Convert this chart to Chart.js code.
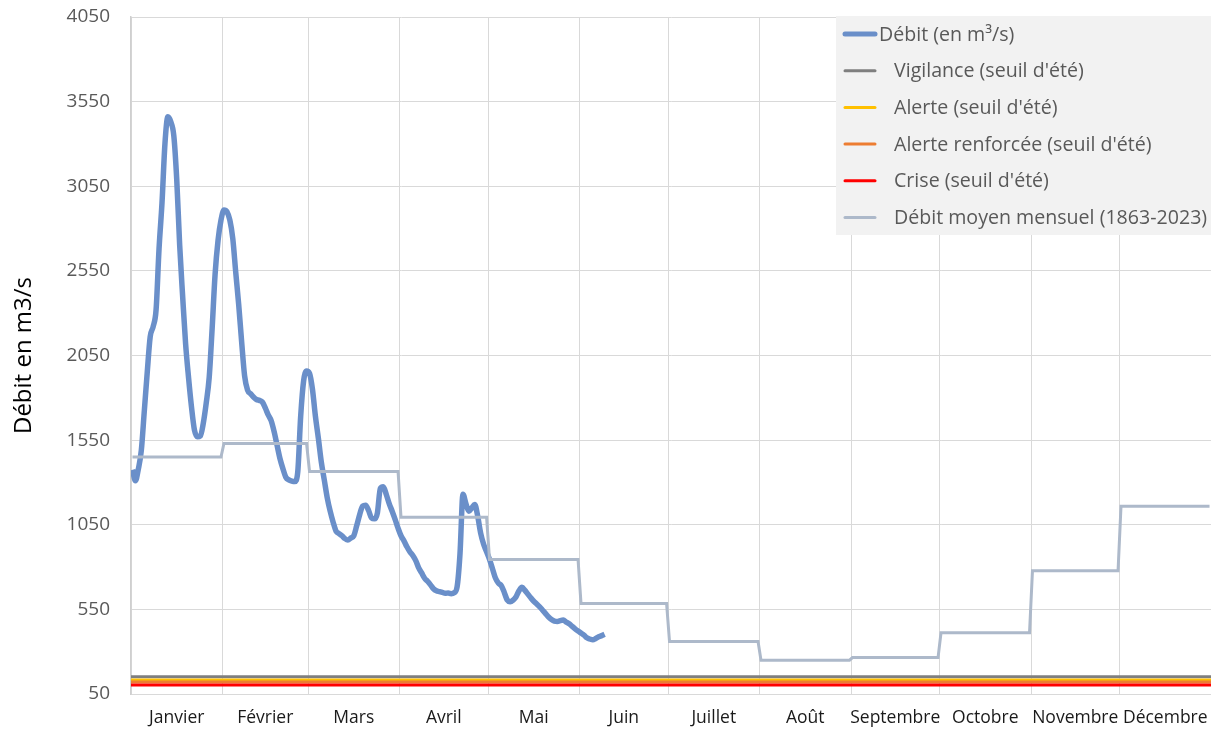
<!DOCTYPE html>
<html lang="fr">
<head>
<meta charset="utf-8">
<title>Débit</title>
<script src="https://cdn.jsdelivr.net/npm/chart.js@4.4.1/dist/chart.umd.min.js"></script>
<style>
  html, body { margin: 0; padding: 0; background: #fff; }
  #wrap { width: 1211px; height: 730px; position: relative; }
</style>
</head>
<body>
<div id="wrap"><canvas id="chartDebit"></canvas></div>
<script>
// Débit journalier depuis le 1er janvier (m³/s)
const debitJour = [
  1375, 1310, 1380, 1490, 1720, 1950, 2160, 2220, 2320, 2680,
  2950, 3300, 3460, 3430, 3350, 3090, 2700, 2400, 2120, 1920,
  1746, 1610, 1570, 1575, 1650, 1770, 1920, 2210, 2530, 2730,
  2850, 2910, 2900, 2850, 2740, 2540, 2350, 2130, 1930, 1845,
  1825, 1805, 1790, 1785, 1775, 1740, 1699, 1665, 1600, 1520,
  1440, 1380, 1330, 1315, 1308, 1305, 1360, 1690, 1900, 1958,
  1945, 1850, 1690, 1560, 1420, 1315, 1210, 1130, 1065, 1012,
  998, 985, 968, 960, 972, 985, 1045, 1110, 1160, 1165,
  1135, 1090, 1085, 1120, 1265, 1275, 1230, 1175, 1130, 1082,
  1030, 985, 955, 920, 891, 868, 838, 795, 765, 734,
  716, 695, 672, 660, 655, 650, 645, 647, 643, 648,
  682, 880, 1230, 1175, 1130, 1150, 1170, 1100, 1000, 935,
  890, 845, 790, 735, 705, 690, 650, 605, 595, 605,
  625, 660, 680, 662, 640, 618, 598, 582, 565, 545,
  525, 505, 490, 480, 478, 484, 487, 475, 465, 450,
  435, 422, 410, 398, 382, 375, 370, 378, 388, 395,
  403
];

const mois = ['Janvier', 'Février', 'Mars', 'Avril', 'Mai', 'Juin', 'Juillet', 'Août', 'Septembre', 'Octobre', 'Novembre', 'Décembre'];
const debutMois = [0, 31, 60, 91, 121, 152, 182, 213, 244, 274, 305, 335, 366];
const moyenneMensuelle = [1450, 1530, 1365, 1095, 845, 585, 360, 250, 265, 412, 778, 1160];

const seuilLabels = ["Vigilance (seuil d'été)", "Alerte (seuil d'été)", "Alerte renforcée (seuil d'été)", "Crise (seuil d'été)"];
const seuilValeurs = [152, 133, 121, 103];
const seuilCouleurs = ['#7f7f7f', '#ffc000', '#ed7d31', '#ff0000'];

const yTicks = [50, 550, 1050, 1550, 2050, 2550, 3050, 3550, 4050];

const FONT = "'Open Sans', 'Liberation Sans', sans-serif";

// points
const debitPts = debitJour.map((v, i) => ({ x: i + 0.5, y: v }));
const moyennePts = [];
moyenneMensuelle.forEach((v, m) => {
  for (let d = debutMois[m]; d < debutMois[m + 1]; d++) moyennePts.push({ x: d + 0.5, y: v });
});

const milieux = mois.map((_, m) => (debutMois[m] + debutMois[m + 1]) / 2);
const xTicks = debutMois.concat(milieux).sort((a, b) => a - b);

const datasets = [{
  label: 'Débit (en m³/s)',
  data: debitPts,
  borderColor: '#6a8fc9',
  borderWidth: 5.5,
  pointRadius: 0,
  cubicInterpolationMode: 'monotone',
  order: 5
}];
seuilLabels.forEach((lab, i) => {
  datasets.push({
    label: lab,
    data: [{ x: 0, y: seuilValeurs[i] }, { x: 366, y: seuilValeurs[i] }],
    borderColor: seuilCouleurs[i],
    borderWidth: 3,
    pointRadius: 0,
    order: 4 - i
  });
});
datasets.push({
  label: 'Débit moyen mensuel (1863-2023)',
  data: moyennePts,
  borderColor: '#adb9ca',
  borderWidth: 3,
  pointRadius: 0,
  order: 0
});

// legend drawn over the plot, like the Excel box
const legendeBox = {
  id: 'legendeBox',
  afterDraw(chart) {
    const ctx = chart.ctx;
    ctx.save();
    ctx.fillStyle = '#f2f2f2';
    ctx.fillRect(836, 16, 375, 219);
    ctx.font = '19.6px ' + FONT;
    ctx.textBaseline = 'middle';
    ctx.fillStyle = '#595959';
    chart.data.datasets.forEach((ds, i) => {
      const y = 34 + i * 36.7;
      ctx.beginPath();
      ctx.strokeStyle = ds.borderColor;
      ctx.lineWidth = i === 0 ? 5 : 3;
      ctx.lineCap = 'round';
      ctx.moveTo(845, y);
      ctx.lineTo(875, y);
      ctx.stroke();
      ctx.fillText(ds.label, i === 0 ? 879 : 894, y + 1);
    });
    ctx.restore();
  }
};

new Chart(document.getElementById('chartDebit'), {
  type: 'line',
  data: { datasets: datasets },
  options: {
    responsive: true,
    maintainAspectRatio: false,
    animation: false,
    layout: { padding: { top: 17, right: 0, left: 0, bottom: 0 } },
    plugins: {
      legend: { display: false },
      tooltip: { enabled: false }
    },
    scales: {
      x: {
        type: 'linear',
        min: 0,
        max: 366,
        afterBuildTicks: axis => { axis.ticks = xTicks.map(v => ({ value: v })); },
        afterFit: axis => {
          axis.height = 36;
          axis.paddingLeft = 0;
          axis.paddingRight = 0;
        },
        grid: {
          color: ctx => debutMois.includes(ctx.tick && ctx.tick.value) ? '#d9d9d9' : 'rgba(0,0,0,0)',
          drawTicks: false
        },
        border: { color: '#d9d9d9' },
        ticks: {
          autoSkip: false,
          maxRotation: 0,
          padding: 14,
          color: '#1a1a1a',
          font: { family: FONT, size: 17.5 },
          callback: v => {
            const m = milieux.indexOf(v);
            return m >= 0 ? mois[m] : '';
          }
        }
      },
      y: {
        min: 50,
        max: 4050,
        afterBuildTicks: axis => { axis.ticks = yTicks.map(v => ({ value: v })); },
        afterFit: axis => {
          axis.width = 131;
          axis.paddingTop = 0;
          axis.paddingBottom = 0;
        },
        grid: { color: '#d9d9d9', drawTicks: false },
        border: { color: '#cfcfcf', width: 1.5 },
        ticks: {
          padding: 21,
          color: '#595959',
          font: { family: FONT, size: 19 },
          callback: v => String(v)
        },
        title: {
          display: true,
          text: 'Débit en m3/s',
          color: '#000',
          font: { family: FONT, size: 24 },
          padding: { top: 10, bottom: 0 }
        }
      }
    }
  },
  plugins: [legendeBox]
});
</script>
</body>
</html>
